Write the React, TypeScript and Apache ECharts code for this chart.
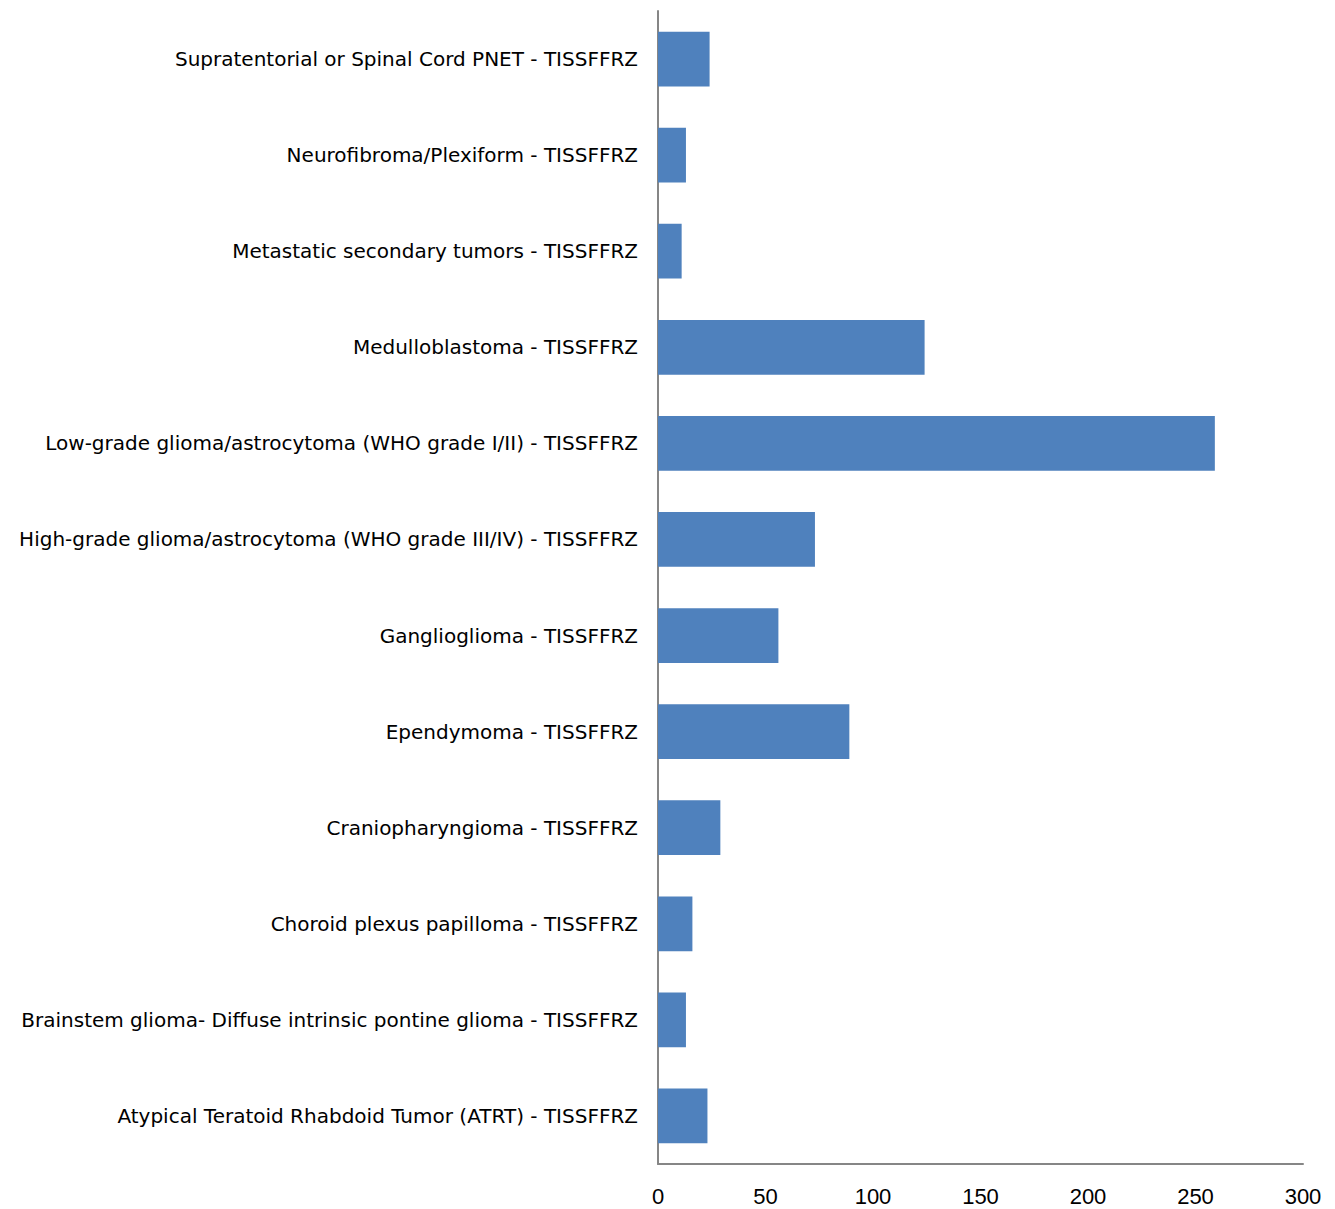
import React, { useEffect, useRef } from "react";
import * as echarts from "echarts";

// bottom-to-top order
const categories = [
  "Atypical Teratoid Rhabdoid Tumor (ATRT) - TISSFFRZ",
  "Brainstem glioma- Diffuse intrinsic pontine glioma - TISSFFRZ",
  "Choroid plexus papilloma - TISSFFRZ",
  "Craniopharyngioma - TISSFFRZ",
  "Ependymoma - TISSFFRZ",
  "Ganglioglioma - TISSFFRZ",
  "High-grade glioma/astrocytoma (WHO grade III/IV) - TISSFFRZ",
  "Low-grade glioma/astrocytoma (WHO grade I/II) - TISSFFRZ",
  "Medulloblastoma - TISSFFRZ",
  "Metastatic secondary tumors - TISSFFRZ",
  "Neurofibroma/Plexiform - TISSFFRZ",
  "Supratentorial or Spinal Cord PNET - TISSFFRZ",
];
const values = [23, 13, 16, 29, 89, 56, 73, 259, 124, 11, 13, 24];
const xTicks = { min: 0, max: 300, interval: 50 };

export default function App() {
  const ref = useRef<HTMLDivElement>(null);
  useEffect(() => {
    if (!ref.current) return;
    const chart = echarts.init(ref.current, null, { renderer: "svg" });
    chart.setOption({
      animation: false,
      grid: {
        left: 658,
        right: 32,
        top: 11,
        bottom: 45,
        containLabel: false,
        outerBoundsMode: "none",
      },
      xAxis: {
        type: "value",
        min: xTicks.min,
        max: xTicks.max,
        interval: xTicks.interval,
        splitLine: { show: false },
        axisTick: { show: false },
        axisLine: { show: true, lineStyle: { color: "#868686", width: 2 } },
        axisLabel: {
          color: "#000",
          fontSize: 22,
          fontFamily: "Liberation Sans",
          margin: 21,
        },
      },
      yAxis: {
        type: "category",
        data: categories,
        axisTick: { show: false },
        axisLine: { show: true, lineStyle: { color: "#868686", width: 2 } },
        axisLabel: {
          color: "#000",
          fontSize: 20,
          fontFamily: "DejaVu Sans",
          margin: 20,
        },
      },
      series: [
        {
          type: "bar",
          data: values,
          barCategoryGap: "43%",
          itemStyle: { color: "#4F81BD" },
        },
      ],
    });
    return () => chart.dispose();
  }, []);
  return (
    <div
      ref={ref}
      style={{ position: "absolute", left: 0, top: 0, width: 1335, height: 1209 }}
    />
  );
}
